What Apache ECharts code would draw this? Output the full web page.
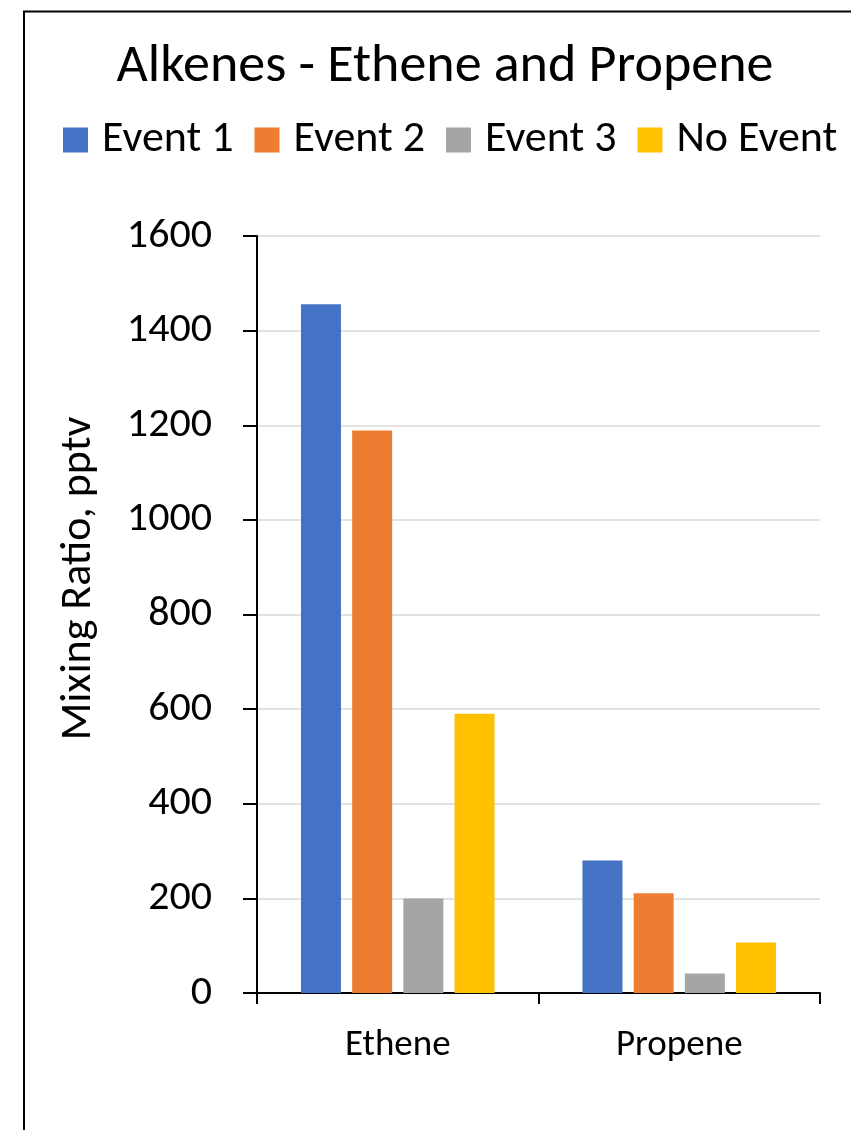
<!DOCTYPE html>
<html>
<head>
<meta charset="utf-8">
<script src="https://cdn.jsdelivr.net/npm/echarts@6/dist/echarts.min.js"></script>
<style>
  html, body { margin: 0; padding: 0; background: #fff; }
  #main { width: 851px; height: 1130px; }
</style>
</head>
<body>
<div id="main"></div>
<script>
;(function () {
  const FONT = 'Carlito, Lato, sans-serif'

  const categories = ['Ethene', 'Propene']
  const seriesNames = ['Event 1', 'Event 2', 'Event 3', 'No Event']
  const event1 = [1456, 280]
  const event2 = [1189, 211]
  const event3 = [200, 41]
  const noEvent = [590, 107]
  const colors = ['#4472C4', '#ED7D31', '#A5A5A5', '#FFC000']

  const values = [event1, event2, event3, noEvent]

  const chart = echarts.init(document.getElementById('main'))
  chart.setOption({
    animation: false,
    color: colors,
    graphic: [{
      type: 'rect',
      shape: { x: 24, y: 11.5, width: 900, height: 1200 },
      style: { fill: 'none', stroke: '#000', lineWidth: 2 },
      silent: true,
    }],
    title: {
      text: 'Alkenes - Ethene and Propene',
      left: 440,
      textAlign: 'center',
      top: 35,
      textStyle: { fontFamily: FONT, fontSize: 54, fontWeight: 'normal', color: '#000' },
    },
    legend: {
      data: seriesNames,
      left: 58,
      top: 113,
      icon: 'rect',
      itemWidth: 25,
      itemHeight: 25,
      itemGap: 21,
      textStyle: { fontFamily: FONT, fontSize: 44, color: '#000', padding: [0, 0, 0, 9] },
    },
    grid: { left: 257, right: 31, top: 236, bottom: 137, containLabel: false },
    xAxis: {
      type: 'category',
      data: categories,
      axisLine: { lineStyle: { color: '#000', width: 2 } },
      axisTick: { show: true, length: 11, lineStyle: { color: '#000', width: 2 } },
      axisLabel: { fontFamily: FONT, fontSize: 37, color: '#000', margin: 34 },
    },
    yAxis: {
      type: 'value',
      min: 0,
      max: 1600,
      interval: 200,
      name: 'Mixing Ratio, pptv',
      nameLocation: 'middle',
      nameRotate: 90,
      nameGap: 156,
      nameTextStyle: { fontFamily: FONT, fontSize: 44, color: '#000', padding: [0, 0, 0, 72] },
      axisLine: { show: true, lineStyle: { color: '#000', width: 2 } },
      axisTick: { show: true, length: 14, lineStyle: { color: '#000', width: 2 } },
      axisLabel: { fontFamily: FONT, fontSize: 42, color: '#000', margin: 45, formatter: (v) => String(v) },
      splitLine: { lineStyle: { color: '#d9d9d9', width: 1.5 } },
    },
    series: seriesNames.map((name, i) => ({
      name,
      type: 'bar',
      data: values[i],
      barWidth: 40,
      barGap: '28%',
    })),
  })
})()
</script>
</body>
</html>
